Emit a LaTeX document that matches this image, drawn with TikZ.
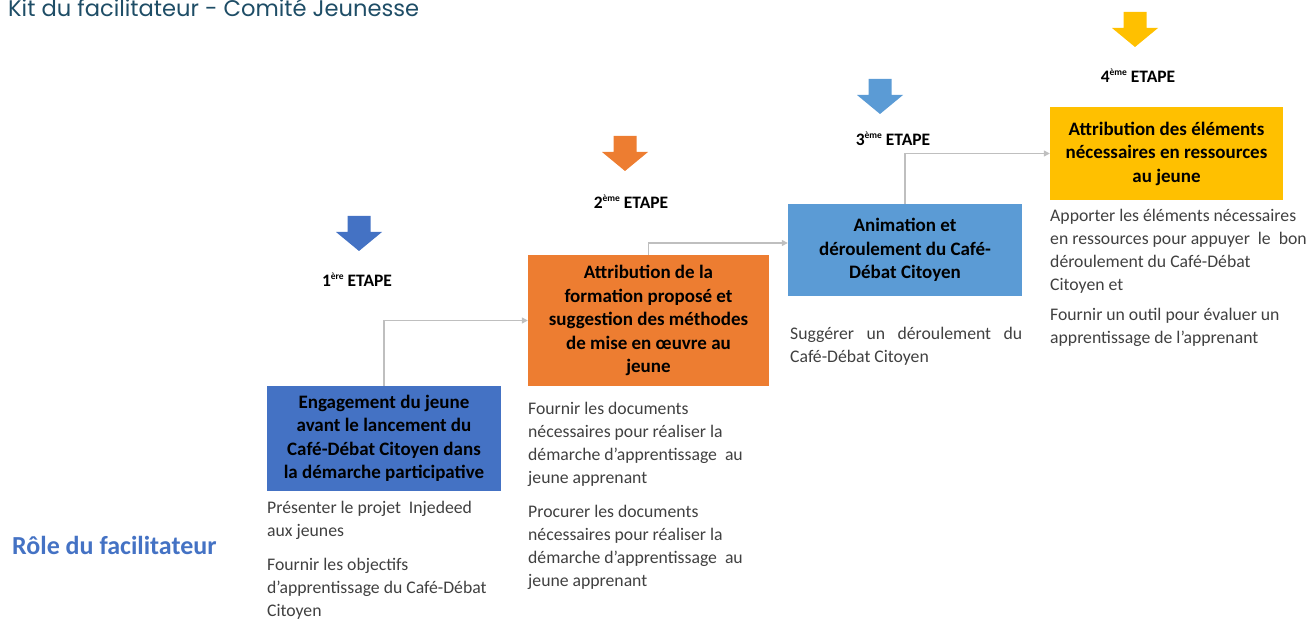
\documentclass[tikz,border=0pt]{standalone}
\usepackage{fontspec}
\setmainfont{Carlito}
\newfontfamily\titlefont{Poppins}
\usetikzlibrary{arrows.meta}
\definecolor{boxblue}{HTML}{4472C4}
\definecolor{boxorange}{HTML}{ED7D31}
\definecolor{boxsky}{HTML}{5B9BD5}
\definecolor{boxgold}{HTML}{FFC000}
\definecolor{linkgray}{HTML}{BFBFBF}
\definecolor{notegray}{HTML}{404040}
\definecolor{kittitle}{HTML}{1E4D66}
\newcommand{\etapesup}[1]{\raisebox{0.42em}{\fontsize{9.5}{10}\selectfont #1}}
\tikzset{
  stagebox/.style={rectangle, inner sep=0pt, align=center, font=\bfseries\fontsize{19}{23.5}\selectfont},
  steplabel/.style={inner sep=0pt, font=\bfseries\fontsize{17.5}{20}\selectfont},
  stepnote/.style={anchor=north west, inner sep=0pt, align=left, text=notegray, font=\fontsize{17.7}{23}\selectfont},
  link/.style={draw=linkgray, line width=1.3pt, -{Triangle[length=6pt,width=6pt]}}
}

\begin{document}
\begin{tikzpicture}[x=1pt, y=-1pt]
        \useasboundingbox (0,0) rectangle (1311,620);
        % titre
        \node[anchor=base west, inner sep=0pt, text=kittitle, font=\titlefont\fontsize{22.6}{26}\selectfont] (title) at (8,17) {Kit du facilitateur - Comité Jeunesse};
        \node[anchor=west, inner sep=0pt, text=boxblue, font=\bfseries\fontsize{26}{29}\selectfont] (role) at (12,545) {Rôle du facilitateur};
        % fleches des etapes
        \foreach \cx/\cy/\col in {359/216/boxblue, 625/136/boxorange, 880/79/boxsky, 1135/12/boxgold} {
             \fill[\col] (\cx-11.5,\cy) -- (\cx+11.5,\cy) -- (\cx+11.5,\cy+16) -- (\cx+23,\cy+16)
                 -- (\cx,\cy+35) -- (\cx-23,\cy+16) -- (\cx-11.5,\cy+16) -- cycle;
        }
        \node[steplabel] (l1) at (357,280) {1\etapesup{ère} ETAPE};
        \node[steplabel] (l2) at (631,202) {2\etapesup{ème} ETAPE};
        \node[steplabel] (l3) at (893,139) {3\etapesup{ème} ETAPE};
        \node[steplabel] (l4) at (1138,76) {4\etapesup{ème} ETAPE};
        % blocs
        \node[stagebox, fill=boxblue, minimum width=234pt, minimum height=105pt] (b1) at (384,438.5)
             {Engagement du jeune\\avant le lancement du\\Café-Débat Citoyen dans\\la démarche participative};
        \node[stagebox, fill=boxorange, minimum width=241pt, minimum height=131pt] (b2) at (648.5,320.5)
             {Attribution de la\\formation proposé et\\suggestion des méthodes\\de mise en œuvre au\\jeune};
        \node[stagebox, fill=boxsky, minimum width=234pt, minimum height=92pt] (b3) at (905,250)
             {Animation et\\déroulement du Café-\\Débat Citoyen};
        \node[stagebox, fill=boxgold, minimum width=233pt, minimum height=93pt] (b4) at (1166.5,153.5)
             {Attribution des éléments\\nécessaires en ressources\\au jeune};
        \draw[link] (b1.north) |- (b2.west);
        \draw[link] (b2.north) |- ([yshift=7pt]b3.west);
        \draw[link] (b3.north) |- (b4.west);
        % roles
        \node[stepnote] (t1) at (267,501) {Présenter le projet\ \ Injedeed\\aux jeunes\\[11pt]Fournir les objectifs\\d’apprentissage du Café-Débat\\Citoyen};
        \node[stepnote] (t2) at (528,402) {Fournir les documents\\nécessaires pour réaliser la\\démarche d’apprentissage\ \ au\\jeune apprenant\\[11pt]Procurer les documents\\nécessaires pour réaliser la\\démarche d’apprentissage\ \ au\\jeune apprenant};
        \node[stepnote] (t3) at (790,327) {\makebox[232pt][s]{Suggérer un déroulement du}\\Café-Débat Citoyen};
        \node[stepnote] (t4) at (1050,209) {Apporter les éléments nécessaires\\en ressources pour appuyer\ \ le\ \ bon\\déroulement du Café-Débat\\Citoyen et\\[7pt]Fournir un outil pour évaluer un\\apprentissage de l’apprenant};
\end{tikzpicture}
\end{document}
